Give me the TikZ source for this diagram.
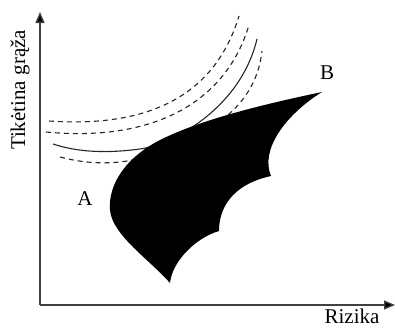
\documentclass[tikz,border=0pt]{standalone}
\usepackage{fontspec}
\setmainfont{Liberation Serif}
\usetikzlibrary{arrows.meta}
\begin{document}
\begin{tikzpicture}[x=1pt,y=-1pt,
  axis/.style={line width=1.3pt,draw=black!75,-{Triangle[width=9pt,length=11pt,fill=black]}},
  dashcurve/.style={line width=1.1pt,dash pattern=on 5pt off 4pt,black!85},
  solidcurve/.style={line width=1.1pt,black!85},
  lbl/.style={font=\fontsize{21}{25}\selectfont,inner sep=0pt}]
\useasboundingbox (0,0) rectangle (395,327);
\coordinate (O) at (40,305);
\coordinate (Ytop) at (40,12);
\coordinate (Xend) at (395,305);
\draw[axis] (O) -- (Ytop);
\draw[axis] (O) -- (Xend);
\node[lbl,rotate=90] (ylab) at (20,90) {Tikėtina grąža};
\node[lbl] (xlab) at (352,316) {Rizika};
\node[lbl] (A) at (85,199) {A};
\node[lbl] (B) at (327,73) {B};
% indifference curves
\draw[dashcurve] (49,121) .. controls (150,128) and (215,95) .. (239,16);
\draw[dashcurve] (46,132) .. controls (150,142) and (225,105) .. (249,25);
\draw[solidcurve] (53,144) .. controls (80,153) and (110,153) .. (140,149)
  .. controls (170,145) and (240,110) .. (257,39);
\draw[dashcurve] (60,157) .. controls (90,165) and (125,166) .. (160,152)
  .. controls (195,138) and (255,115) .. (262,51);
% efficient set region
\fill[black] (322,92) .. controls (260,105) and (200,120) .. (160,140)
  .. controls (125,158) and (108,185) .. (110,210)
  .. controls (112,235) and (150,260) .. (170,283)
  .. controls (172,262) and (195,238) .. (219,231)
  .. controls (219,210) and (230,185) .. (271,176)
  .. controls (260,150) and (285,115) .. (322,92) -- cycle;
\end{tikzpicture}
\end{document}
